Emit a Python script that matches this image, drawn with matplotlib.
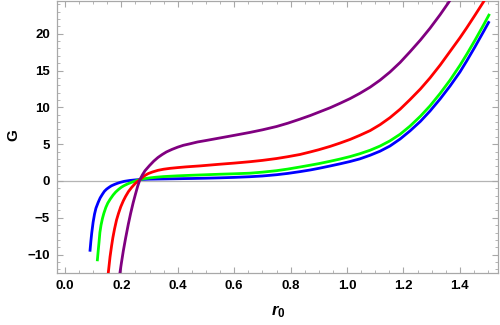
import matplotlib
matplotlib.use("Agg")
import matplotlib.pyplot as plt
from matplotlib.ticker import MultipleLocator

plt.rcParams['font.family'] = ['Liberation Sans', 'DejaVu Sans']
plt.rcParams['mathtext.fontset'] = 'custom'
plt.rcParams['mathtext.it'] = 'Liberation Sans:bold:italic'
plt.rcParams['mathtext.rm'] = 'Liberation Sans:bold'
plt.rcParams['mathtext.bf'] = 'Liberation Sans:bold'

# Data
r_blue = [0.0887, 0.092, 0.095, 0.100, 0.105, 0.110, 0.118, 0.125, 0.133, 0.140,
          0.148, 0.157, 0.165, 0.175, 0.183, 0.195, 0.210, 0.230, 0.250, 0.266,
          0.30, 0.35, 0.40, 0.45, 0.50, 0.55, 0.60, 0.656, 0.70, 0.75, 0.79, 0.833,
          0.87, 0.90, 0.94, 0.975, 1.011, 1.045, 1.082, 1.117, 1.152, 1.188,
          1.223, 1.26, 1.294, 1.33, 1.365, 1.40, 1.424, 1.453, 1.483, 1.504]
g_blue = [-9.6, -8.2, -7.1, -5.6, -4.5, -3.7, -2.9, -2.3, -1.8, -1.4,
          -1.1, -0.85, -0.65, -0.48, -0.36, -0.2, -0.05, 0.07, 0.15, 0.2,
          0.25, 0.28, 0.31, 0.34, 0.38, 0.43, 0.49, 0.58, 0.68, 0.85, 1.03, 1.27,
          1.5, 1.72, 2.04, 2.33, 2.65, 3.0, 3.5, 4.05, 4.75, 5.7,
          6.8, 8.1, 9.5, 11.15, 12.9, 14.8, 16.3, 18.2, 20.25, 21.7]

r_green = [0.1147, 0.118, 0.121, 0.124, 0.128, 0.133, 0.138, 0.145, 0.152, 0.160,
           0.171, 0.180, 0.190, 0.200, 0.210, 0.225, 0.242, 0.255, 0.266, 0.28,
           0.30, 0.325, 0.35, 0.40, 0.45, 0.50, 0.55, 0.60, 0.656, 0.70, 0.75,
           0.79, 0.833, 0.87, 0.90, 0.94, 0.975, 1.011, 1.045, 1.082, 1.117,
           1.152, 1.188, 1.223, 1.26, 1.294, 1.33, 1.365, 1.40, 1.424, 1.453,
           1.483, 1.505]
g_green = [-10.9, -9.5, -8.3, -7.0, -6.0, -5.1, -4.4, -3.6, -3.0, -2.5,
           -1.9, -1.5, -1.15, -0.85, -0.62, -0.35, -0.1, 0.07, 0.2, 0.3,
           0.42, 0.52, 0.6, 0.7, 0.78, 0.85, 0.92, 0.98, 1.06, 1.2, 1.4,
           1.62, 1.9, 2.15, 2.36, 2.68, 2.98, 3.32, 3.7, 4.18, 4.75,
           5.45, 6.35, 7.45, 8.8, 10.2, 11.9, 13.7, 15.7, 17.2, 19.1,
           21.15, 22.7]

r_red = [0.145, 0.1537, 0.160, 0.1655, 0.170, 0.176, 0.183, 0.190, 0.198, 0.207,
         0.215, 0.225, 0.236, 0.250, 0.266, 0.275, 0.285, 0.295, 0.31, 0.33,
         0.35, 0.373, 0.40, 0.43, 0.479, 0.55, 0.60, 0.656, 0.70, 0.75, 0.79,
         0.833, 0.87, 0.90, 0.94, 0.975, 1.011, 1.045, 1.082, 1.117, 1.152,
         1.188, 1.223, 1.26, 1.294, 1.33, 1.365, 1.40, 1.424, 1.453, 1.483, 1.50]
g_red = [-14.5, -12.5, -10.3, -8.8, -7.7, -6.5, -5.3, -4.4, -3.5, -2.7,
         -2.1, -1.45, -0.9, -0.3, 0.2, 0.5, 0.78, 1.0, 1.22, 1.45,
         1.6, 1.72, 1.82, 1.92, 2.05, 2.28, 2.43, 2.62, 2.8, 3.05, 3.3,
         3.6, 3.95, 4.25, 4.7, 5.15, 5.65, 6.2, 6.85, 7.65, 8.6,
         9.75, 11.05, 12.5, 14.0, 15.75, 17.6, 19.45, 20.8, 22.5, 24.3, 25.4]

r_purple = [0.19, 0.195, 0.200, 0.207, 0.215, 0.2246, 0.233, 0.242, 0.250, 0.258,
            0.266, 0.275, 0.284, 0.30, 0.315, 0.33, 0.345, 0.36, 0.38, 0.40,
            0.42, 0.443, 0.47, 0.50, 0.55, 0.60, 0.656, 0.70, 0.75, 0.79, 0.833,
            0.87, 0.90, 0.94, 0.975, 1.011, 1.045, 1.082, 1.117, 1.152, 1.188,
            1.223, 1.26, 1.294, 1.33, 1.359, 1.38]
g_purple = [-14.5, -12.5, -11.2, -9.5, -7.8, -5.9, -4.4, -2.95, -1.8, -0.7,
            0.2, 0.85, 1.4, 2.1, 2.7, 3.2, 3.6, 3.95, 4.3, 4.6,
            4.85, 5.05, 5.3, 5.5, 5.85, 6.2, 6.6, 6.95, 7.4, 7.85, 8.4,
            8.9, 9.35, 9.95, 10.55, 11.2, 11.9, 12.75, 13.7, 14.8, 16.1,
            17.55, 19.15, 20.75, 22.6, 24.2, 25.5]

x_ticks = [0.0, 0.2, 0.4, 0.6, 0.8, 1.0, 1.2, 1.4]
y_ticks = [-10, -5, 0, 5, 10, 15, 20]

fig = plt.figure(figsize=(5.0, 3.25), dpi=100)
ax = fig.add_axes([0.114, 0.16, 0.882, 0.838])

ax.axhline(0, color='#b4b4b4', lw=0.9, zorder=1)

lw = 2.0
kw = dict(lw=lw, zorder=3, solid_joinstyle='round', solid_capstyle='butt')
ax.plot(r_blue, g_blue, color='#0000ff', **kw)
ax.plot(r_green, g_green, color='#00ff00', **kw)
ax.plot(r_red, g_red, color='#ff0000', **kw)
ax.plot(r_purple, g_purple, color='#800080', **kw)

ax.set_xlim(-0.028, 1.535)
ax.set_ylim(-12.5, 24.5)
ax.set_xticks(x_ticks)
ax.set_xticklabels([f"{v:.1f}" for v in x_ticks])
ax.set_yticks(y_ticks)
ax.set_yticklabels([str(v).replace('-', '\u2212') for v in y_ticks])
ax.xaxis.set_minor_locator(MultipleLocator(0.05))
ax.yaxis.set_minor_locator(MultipleLocator(1))

for s in ax.spines.values():
    s.set_color('#a8a8a8')
    s.set_linewidth(0.9)

ax.tick_params(which='both', direction='in', top=True, right=True, color='#a8a8a8')
ax.tick_params(which='major', length=4.5, width=0.8, labelsize=9.5, pad=5)
ax.tick_params(which='minor', length=2.5, width=0.6)
for lab in ax.get_xticklabels() + ax.get_yticklabels():
    lab.set_fontweight('bold')

fig.text(0.026, 1 - 135 / 325, 'G', rotation=90, ha='center', va='center',
         fontsize=11, fontweight='bold')
fig.text(0.556, 1 - 312 / 325, r'$r_0$', ha='center', va='center', fontsize=12)

fig.savefig('out.png', dpi=100)
